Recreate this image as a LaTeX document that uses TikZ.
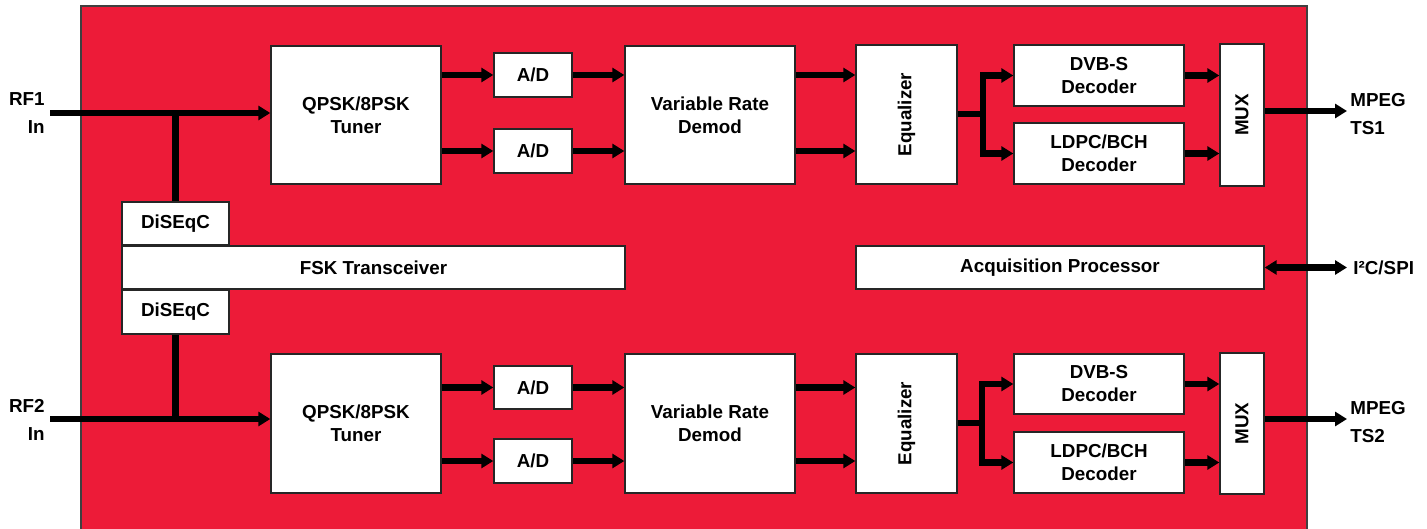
\documentclass[tikz,border=0pt]{standalone}
\usepackage{fontspec}
\setmainfont{Liberation Sans}
\usepackage{graphicx}
\usetikzlibrary{arrows.meta}
\definecolor{chipred}{HTML}{ED1B38}
\tikzset{
  blk/.style={draw=black!85, line width=0.7pt, fill=white, inner sep=0pt, align=center,
    font=\fontsize{9.4}{11.5}\selectfont\bfseries},
  wire/.style={line width=3.2pt},
  arr/.style={wire, -{Triangle[length=6pt,width=7pt]}},
  darr/.style={wire, {Triangle[length=6pt,width=7pt]}-{Triangle[length=6pt,width=7pt]}},
  lbl/.style={inner sep=0pt, font=\fontsize{9.4}{14}\selectfont\bfseries}
}
\newcommand\blk[6]{\node[blk, minimum width={(#4-#2)*0.5pt}, minimum height={(#5-#3)*0.5pt}] (#1) at ({(#2+#4)/2},{(#3+#5)/2}) {#6};}
\begin{document}
\begin{tikzpicture}[x=0.5pt,y=-0.5pt]
\clip (0,0) rectangle (1427,529);
\fill[white] (0,0) rectangle (1427,529);
\draw[fill=chipred, draw=black!75, line width=0.7pt] (81,6) rectangle (1307,545);

% ---- channel 1
\blk{tun1}{271}{46}{441}{184}{QPSK/8PSK\\Tuner}
\blk{adA1}{494}{53}{572}{97}{A/D}
\blk{adB1}{494}{129}{572}{173}{A/D}
\blk{dem1}{625}{46}{795}{184}{Variable Rate\\Demod}
\blk{eq1}{856}{45}{957}{184}{\rotatebox{90}{Equalizer}}
\blk{dvb1}{1014}{45}{1184}{106}{DVB-S\\Decoder}
\blk{ldpc1}{1014}{123}{1184}{184}{LDPC/BCH\\Decoder}
\blk{mux1}{1220}{44}{1264}{186}{\rotatebox{90}{MUX}}

% ---- shared
\blk{dis1}{122}{202}{229}{245}{DiSEqC}
\blk{fsk}{122}{246}{625}{289}{FSK Transceiver}
\blk{dis2}{122}{290}{229}{334}{DiSEqC}
\blk{acq}{856}{246}{1264}{289}{Acquisition Processor}

% ---- channel 2
\blk{tun2}{271}{354}{441}{493}{QPSK/8PSK\\Tuner}
\blk{adA2}{494}{366}{572}{409}{A/D}
\blk{adB2}{494}{439}{572}{483}{A/D}
\blk{dem2}{625}{354}{795}{493}{Variable Rate\\Demod}
\blk{eq2}{856}{354}{957}{493}{\rotatebox{90}{Equalizer}}
\blk{dvb2}{1014}{354}{1184}{414}{DVB-S\\Decoder}
\blk{ldpc2}{1014}{432}{1184}{493}{LDPC/BCH\\Decoder}
\blk{mux2}{1220}{353}{1264}{494}{\rotatebox{90}{MUX}}

% ---- outside labels
\node[lbl, align=right, anchor=east] (rf1t) at (45,113.5) {RF1\\In};
\node[lbl, align=right, anchor=east] (rf2t) at (45,420) {RF2\\In};
\node[lbl, align=left, anchor=west] (ts1t) at (1350,114) {MPEG\\TS1};
\node[lbl, align=left, anchor=west] (ts2t) at (1350,422) {MPEG\\TS2};
\node[lbl, anchor=west] (i2ct) at (1353,268) {I²C/SPI};

\coordinate (rf1) at (50,113);
\coordinate (rf2) at (50,419);
\coordinate (out1) at (1347,111);
\coordinate (out2) at (1347,419);
\coordinate (io) at (1347,268);
\coordinate (br1) at (983,114);
\coordinate (br2) at (982,423);

% ---- connectors channel 1
\draw[arr] (rf1) -- (rf1 -| tun1.west);
\draw[wire] (dis1.north) -- (dis1.north |- rf1);
\draw[arr] (tun1.east |- adA1.west) -- (adA1.west);
\draw[arr] (tun1.east |- adB1.west) -- (adB1.west);
\draw[arr] (adA1.east) -- (adA1.east -| dem1.west);
\draw[arr] (adB1.east) -- (adB1.east -| dem1.west);
\draw[arr] (dem1.east |- adA1.east) -- (adA1.east -| eq1.west);
\draw[arr] (dem1.east |- adB1.east) -- (adB1.east -| eq1.west);
\draw[wire] (eq1.east |- br1) -- (br1);
\draw[arr] (br1) |- (dvb1.west);
\draw[arr] (br1) |- (ldpc1.west);
\draw[arr] (dvb1.east) -- (dvb1.east -| mux1.west);
\draw[arr] (ldpc1.east) -- (ldpc1.east -| mux1.west);
\draw[arr] (mux1.east |- out1) -- (out1);

% ---- connectors channel 2
\draw[arr] (rf2) -- (rf2 -| tun2.west);
\draw[wire] (dis2.south) -- (dis2.south |- rf2);
\draw[arr] (tun2.east |- adA2.west) -- (adA2.west);
\draw[arr] (tun2.east |- adB2.west) -- (adB2.west);
\draw[arr] (adA2.east) -- (adA2.east -| dem2.west);
\draw[arr] (adB2.east) -- (adB2.east -| dem2.west);
\draw[arr] (dem2.east |- adA2.east) -- (adA2.east -| eq2.west);
\draw[arr] (dem2.east |- adB2.east) -- (adB2.east -| eq2.west);
\draw[wire] (eq2.east |- br2) -- (br2);
\draw[arr] (br2) |- (dvb2.west);
\draw[arr] (br2) |- (ldpc2.west);
\draw[arr] (dvb2.east) -- (dvb2.east -| mux2.west);
\draw[arr] (ldpc2.east) -- (ldpc2.east -| mux2.west);
\draw[arr] (mux2.east |- out2) -- (out2);

% ---- control interface
\draw[darr] (acq.east) -- (acq.east -| io);
\end{tikzpicture}
\end{document}
